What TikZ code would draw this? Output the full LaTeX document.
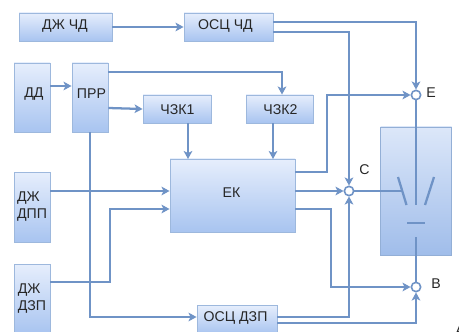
\documentclass[tikz,border=0pt]{standalone}
\usepackage{fontspec}
\setmainfont{Liberation Sans}
\usetikzlibrary{arrows.meta}
\definecolor{boxedge}{HTML}{9DB8DD}
\definecolor{boxtop}{HTML}{E6EEFC}
\definecolor{boxbot}{HTML}{A8C4F0}
\definecolor{wire}{HTML}{6F93C6}
\definecolor{vttop}{HTML}{DCE7F9}
\definecolor{vtbot}{HTML}{A0BDEA}
\definecolor{vtedge}{HTML}{93AFD6}
\tikzset{x=0.75pt,y=-0.75pt,
 blockbox/.style={draw=boxedge,line width=0.7pt,top color=boxtop,bottom color=boxbot,inner sep=0pt},
 wireline/.style={draw=wire,line width=1.7pt},
 arrowline/.style={wireline,-{Stealth[length=6pt,width=6.5pt,inset=1.5pt]}},
 junction/.style={circle,draw=wire,line width=1.2pt,fill=white,minimum size=7pt,inner sep=0pt},
 lab/.style={font=\fontsize{10.6}{12.75}\selectfont,text=black!85,inner sep=0pt,align=left}}
% name, x1, y1, x2, y2, text, text shift x, text shift y (px)
\newcommand{\blockat}[8]{\node[blockbox,minimum width=#4*0.75pt-#2*0.75pt,minimum height=#5*0.75pt-#3*0.75pt] (#1) at ({(#2+#4)/2},{(#3+#5)/2}) {};
\node[lab] (#1text) at ({(#2+#4)/2+#7},{(#3+#5)/2+#8}) {#6};}
\begin{document}
\begin{tikzpicture}
\useasboundingbox (0,0) rectangle (459,331);
\clip (0,0) rectangle (459,331);
\node[draw=vtedge,line width=0.7pt,top color=vttop,bottom color=vtbot,minimum width=71*0.75pt,minimum height=128*0.75pt,inner sep=0pt] (vtbox) at (416,191) {};
\blockat{dzhchd}{19}{13}{112}{41}{ДЖ ЧД}{-0.5}{-1}
\blockat{oscchd}{184}{13}{273}{41}{ОСЦ ЧД}{-3}{-1}
\blockat{dd}{14}{63}{50}{132}{ДД}{2}{-3.5}
\blockat{prr}{72}{63}{108}{132}{ПРР}{1.5}{-4}
\blockat{chzk1}{143}{95}{211}{123}{ЧЗК1}{0.5}{1}
\blockat{chzk2}{246}{95}{313}{123}{ЧЗК2}{1}{1}
\blockat{ek}{170}{159}{295}{232}{ЕК}{-1}{-2.5}
\blockat{dzhdpp}{14}{172}{50}{242}{ДЖ\\ДПП}{0}{0}
\blockat{dzhdzp}{14}{264}{50}{334}{ДЖ\\ДЗП}{0}{0}
\blockat{oscdzp}{197}{305}{277}{334}{ОСЦ ДЗП}{-1.5}{-2}
\node[junction] (E) at (416,95) {};
\node[junction] (C) at (349,191) {};
\node[junction] (B) at (416,287) {};
\node[lab] (labE) at (431,93) {Е};
\node[lab] (labC) at (364.5,170) {С};
\node[lab] (labB) at (436,284) {В};
\node[lab] (labA) at (460,331) {А};
\coordinate (gl1) at (398,177); \coordinate (gl2) at (406.5,205);
\coordinate (gr1) at (434,177); \coordinate (gr2) at (425,205);
\coordinate (gc2) at (416,205);
\coordinate (bl) at (407,223); \coordinate (br) at (425,223);
\coordinate (low) at (416,237);
\coordinate (cgate) at (402,191);
\draw[wireline] (gl1) -- (gl2);
\draw[wireline] (gr1) -- (gr2);
\draw[wireline] (E) -- (gc2);
\draw[wireline] (bl) -- (br);
\draw[wireline] (low) -- (B);
\draw[wireline] (C) -- (cgate);
\draw[arrowline] (dzhchd.east) -- (oscchd.west);
\draw[arrowline] (oscchd.east |- 0,22) -| (E);
\draw[arrowline] (oscchd.east |- 0,32) -| (C);
\draw[arrowline] (dd.east |- 0,86) -- (prr.west |- 0,86);
\draw[arrowline] (prr.east |- 0,72) -| (chzk2.north -| 282,0);
\draw[arrowline] (prr.east |- 0,108) -- (chzk1.west);
\draw[arrowline] (188,123) -- (188,159);
\draw[arrowline] (273,123) -- (273,159);
\draw[arrowline] (ek.east |- 0,172) -| (327,95) -- (E);
\draw[arrowline] (ek.east |- 0,191) -- (C);
\draw[arrowline] (ek.east |- 0,209) -| (331,287) -- (B);
\draw[arrowline] (dzhdpp.east |- 0,191) -- (ek.west |- 0,191);
\draw[arrowline] (dzhdzp.east |- 0,282) -| (110,209) -- (ek.west |- 0,209);
\draw[arrowline] (90,132) |- (oscdzp.west |- 0,317);
\draw[arrowline] (oscdzp.east |- 0,317) -| (C);
\draw[arrowline] (oscdzp.east |- 0,323) -| (B);
\end{tikzpicture}
\end{document}
